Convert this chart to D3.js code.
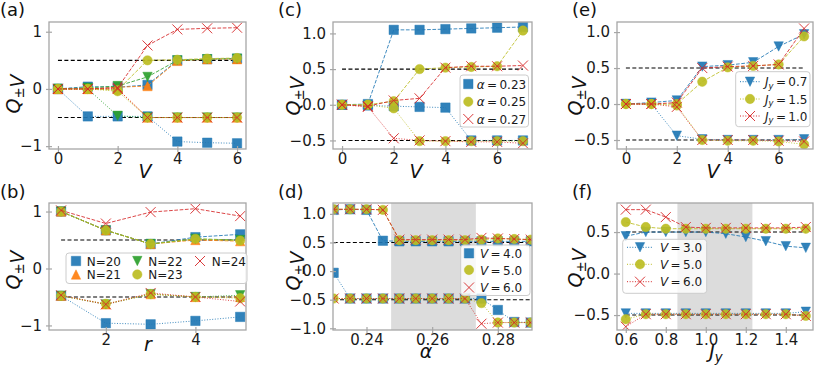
<!DOCTYPE html>
<html>
<head>
<meta charset="utf-8">
<script src="https://cdn.jsdelivr.net/npm/d3@7"></script>
<style>
  body { margin: 0; background: #fff; }
  svg { display: block; font-family: "DejaVu Sans", sans-serif; }
</style>
</head>
<body>
<svg id="fig" width="814" height="365"></svg>
<script>
// ---- data ----
// (a) Q vs V for several N
const vA = [0, 1, 2, 3, 4, 5, 6];
const aUpN20 = [0, 0.04, 0.03, 0.07, 0.50, 0.52, 0.53];
const aLoN20 = [0, -0.48, -0.48, -0.48, -0.92, -0.94, -0.95];
const aUpN21 = [0, 0.00, 0.03, 0.05, 0.49, 0.52, 0.52];
const aLoN21 = [0, 0.00, 0.00, -0.50, -0.50, -0.50, -0.50];
const aUpN22 = [0, 0.02, 0.05, 0.21, 0.50, 0.52, 0.53];
const aLoN22 = [0, 0.00, -0.47, -0.50, -0.50, -0.50, -0.50];
const aUpN23 = [0, 0.00, -0.02, 0.50, 0.51, 0.53, 0.54];
const aLoN23 = [0, 0.00, -0.04, -0.50, -0.50, -0.50, -0.50];
const aUpN24 = [0, 0.00, 0.02, 0.76, 1.04, 1.06, 1.07];
const aLoN24 = [0, 0.00, 0.00, -0.50, -0.50, -0.50, -0.50];

// (b) Q vs r
const rB = [1, 2, 3, 4, 5];
const bUpN20 = [1.00, 0.67, 0.43, 0.55, 0.60];
const bLoN20 = [-0.48, -0.96, -0.98, -0.92, -0.85];
const bUpN21 = [1.00, 0.67, 0.43, 0.50, 0.48];
const bLoN21 = [-0.48, -0.63, -0.45, -0.50, -0.50];
const bUpN22 = [1.00, 0.67, 0.43, 0.52, 0.50];
const bLoN22 = [-0.48, -0.63, -0.45, -0.50, -0.47];
const bUpN23 = [1.00, 0.67, 0.43, 0.52, 0.49];
const bLoN23 = [-0.48, -0.62, -0.45, -0.50, -0.52];
const bUpN24 = [1.02, 0.79, 0.99, 1.05, 0.92];
const bLoN24 = [-0.47, -0.63, -0.43, -0.50, -0.58];

// (c) Q vs V for several alpha
const vC = [0, 1, 2, 3, 4, 5, 6, 7];
const cUpA23 = [0, 0.01, 1.05, 1.05, 1.06, 1.07, 1.08, 1.09];
const cLoA23 = [0, -0.01, -0.02, -0.03, -0.04, -0.50, -0.50, -0.50];
const cUpA25 = [0, 0.00, 0.05, 0.50, 0.52, 0.53, 0.54, 1.04];
const cLoA25 = [0, 0.00, -0.05, -0.51, -0.51, -0.51, -0.51, -0.51];
const cUpA27 = [0, -0.02, 0.06, 0.09, 0.52, 0.54, 0.54, 0.55];
const cLoA27 = [0, -0.03, -0.47, -0.50, -0.51, -0.52, -0.52, -0.54];

// (d) Q vs alpha for several V
const alphaD = [0.23, 0.235, 0.24, 0.245, 0.25, 0.255, 0.26, 0.265, 0.27, 0.275, 0.28, 0.285, 0.29];
const dUpV4 = [1.07, 1.08, 1.07, 0.53, 0.52, 0.52, 0.52, 0.52, 0.52, 0.52, 0.52, 0.52, 0.52];
const dLoV4 = [-0.03, -0.48, -0.48, -0.48, -0.48, -0.48, -0.48, -0.48, -0.48, -0.48, -0.68, -0.89, -0.90];
const dUpV5 = [1.08, 1.08, 1.08, 1.07, 0.54, 0.54, 0.54, 0.54, 0.54, 0.55, 0.57, 0.56, 0.55];
const dLoV5 = [-0.48, -0.48, -0.48, -0.48, -0.48, -0.48, -0.48, -0.48, -0.48, -0.56, -0.90, -0.90, -0.90];
const dUpV6 = [1.08, 1.08, 1.08, 1.07, 0.55, 0.55, 0.55, 0.55, 0.55, 0.58, 0.57, 0.56, 0.55];
const dLoV6 = [-0.48, -0.48, -0.48, -0.48, -0.48, -0.48, -0.48, -0.48, -0.48, -0.92, -0.90, -0.90, -0.90];

// (e) Q vs V for several J_y
const vE = [0, 1, 2, 3, 4, 5, 6, 7];
const eUpJ07 = [0, 0.02, 0.05, 0.52, 0.54, 0.58, 0.80, 0.97];
const eLoJ07 = [0, 0.00, -0.44, -0.49, -0.50, -0.50, -0.50, -0.49];
const eUpJ15 = [0, 0.00, 0.00, 0.31, 0.51, 0.53, 0.55, 0.94];
const eLoJ15 = [0, 0.00, -0.02, -0.50, -0.51, -0.51, -0.52, -0.56];
const eUpJ10 = [0, 0.00, 0.02, 0.50, 0.52, 0.53, 0.55, 1.05];
const eLoJ10 = [0, 0.00, -0.04, -0.50, -0.50, -0.50, -0.51, -0.52];

// (f) Q vs J_y for several V
const jyF = [0.6, 0.7, 0.8, 0.9, 1.0, 1.1, 1.2, 1.3, 1.4, 1.5];
const fUpV3 = [0.45, 0.50, 0.50, 0.50, 0.50, 0.48, 0.44, 0.39, 0.33, 0.31];
const fLoV3 = [-0.48, -0.48, -0.48, -0.48, -0.48, -0.48, -0.48, -0.48, -0.48, -0.46];
const fUpV5 = [0.62, 0.56, 0.54, 0.54, 0.54, 0.54, 0.54, 0.54, 0.54, 0.54];
const fLoV5 = [-0.55, -0.49, -0.49, -0.49, -0.49, -0.49, -0.49, -0.49, -0.49, -0.51];
const fUpV6 = [0.77, 0.77, 0.68, 0.56, 0.55, 0.55, 0.55, 0.55, 0.55, 0.56];
const fLoV6 = [-0.64, -0.49, -0.49, -0.49, -0.49, -0.49, -0.49, -0.49, -0.49, -0.51];

// ticks, reference lines, shaded windows
const ticksXA = [0, 2, 4, 6], ticksYA = [-1, 0, 1];
const ticksXB = [2, 4], ticksYB = [-1, 0, 1];
const ticksXC = [0, 2, 4, 6], ticksYC = [-0.5, 0, 0.5, 1];
const ticksXD = [0.24, 0.26, 0.28], ticksYD = [-1, -0.5, 0, 0.5, 1];
const ticksXE = [0, 2, 4, 6], ticksYE = [-0.5, 0, 0.5, 1];
const ticksXF = [0.6, 0.8, 1.0, 1.2, 1.4], ticksYF = [-0.5, 0, 0.5];
const refLevels = [0.5, -0.5];
const shadeD = [0.2475, 0.2733];
const shadeF = [0.858, 1.233];

const C = { blue: '#1f77b4', orange: '#ff7f0e', green: '#2ca02c', olive: '#bcbd22', red: '#d62728' };
const FRAME = '#a6a6a6';
const TICK_FS = 15, LAB_FS = 19, LEG_FS = 12;

const svg = d3.select('#fig');

function markerPath(type, s) {
  // s = half size
  if (type === 'square') return `M${-s},${-s}H${s}V${s}H${-s}Z`;
  if (type === 'circle') return d3.symbol(d3.symbolCircle, Math.PI * s * s)();
  if (type === 'tri') return `M0,${-s}L${s},${s}L${-s},${s}Z`;
  if (type === 'triDown') return `M0,${s}L${s},${-s}L${-s},${-s}Z`;
  return `M${-s},${-s}L${s},${s}M${-s},${s}L${s},${-s}`; // x
}

function drawMarkers(g, pts, type, color) {
  const isX = type === 'x';
  g.selectAll(null).data(pts).join('path')
    .attr('transform', d => `translate(${d[0]},${d[1]})`)
    .attr('d', markerPath(type, isX ? 5 : 4.7))
    .attr('fill', isX ? 'none' : color)
    .attr('fill-opacity', 0.92)
    .attr('stroke', color)
    .attr('stroke-opacity', isX ? 0.9 : 0.45)
    .attr('stroke-width', 1);
}

function mathText(sel, parts, size) {
  // parts: [text, italic, 'sub' | 'base']
  parts.forEach(p => {
    const t = sel.append('tspan').text(p[0]);
    if (p[1]) t.attr('font-style', 'italic');
    if (p[2] === 'sub') t.attr('font-size', size * 0.7).attr('dy', size * 0.22);
    if (p[2] === 'base') t.attr('dy', -size * 0.22);
  });
}

function panel(cfg) {
  const g = svg.append('g');
  const x = d3.scaleLinear().domain(cfg.xDomain).range([cfg.box[0], cfg.box[2]]);
  const y = d3.scaleLinear().domain(cfg.yDomain).range([cfg.box[3], cfg.box[1]]);
  const id = 'clip-' + cfg.name;
  g.append('clipPath').attr('id', id).append('rect')
    .attr('x', cfg.box[0]).attr('y', cfg.box[1])
    .attr('width', cfg.box[2] - cfg.box[0]).attr('height', cfg.box[3] - cfg.box[1]);
  const plot = g.append('g').attr('clip-path', `url(#${id})`);

  if (cfg.shade) {
    plot.append('rect')
      .attr('x', x(cfg.shade[0])).attr('width', x(cfg.shade[1]) - x(cfg.shade[0]))
      .attr('y', cfg.box[1]).attr('height', cfg.box[3] - cfg.box[1])
      .attr('fill', '#dcdcdc');
  }

  // reference levels at +-0.5
  refLevels.forEach(v => {
    plot.append('line')
      .attr('x1', x(cfg.refSpan[0])).attr('x2', x(cfg.refSpan[1]))
      .attr('y1', y(v)).attr('y2', y(v))
      .attr('stroke', '#000').attr('stroke-width', 1.1)
      .attr('stroke-dasharray', '4,2.4');
  });

  const line = d3.line().x(d => d[0]).y(d => d[1]);
  cfg.series.forEach(s => {
    [[s.up, '3.7,1.6'], [s.lo, '1,1.65']].forEach(([vals, dash]) => {
      const pts = vals.map((v, i) => [x(cfg.xs[i]), y(v)]);
      plot.append('path').attr('d', line(pts))
        .attr('fill', 'none').attr('stroke', s.color).attr('stroke-width', 1)
        .attr('stroke-opacity', 0.85).attr('stroke-dasharray', dash);
      drawMarkers(plot, pts, s.marker, s.color);
    });
  });

  g.append('rect')
    .attr('x', cfg.box[0]).attr('y', cfg.box[1])
    .attr('width', cfg.box[2] - cfg.box[0]).attr('height', cfg.box[3] - cfg.box[1])
    .attr('fill', 'none').attr('stroke', FRAME).attr('stroke-width', 1.3);

  // axes
  const xa = g.append('g').attr('transform', `translate(0,${cfg.box[3]})`)
    .call(d3.axisBottom(x).tickValues(cfg.xTicks).tickFormat(d3.format(cfg.xFmt)).tickSize(4).tickPadding(0));
  const ya = g.append('g').attr('transform', `translate(${cfg.box[0]},0)`)
    .call(d3.axisLeft(y).tickValues(cfg.yTicks).tickFormat(d3.format(cfg.yFmt)).tickSize(4).tickPadding(3));
  [xa, ya].forEach(a => {
    a.select('.domain').remove();
    a.selectAll('.tick line').attr('stroke', FRAME).attr('stroke-width', 1.2);
    a.selectAll('.tick text').attr('fill', '#1a1a1a').attr('font-size', TICK_FS)
      .attr('font-family', '"DejaVu Sans", sans-serif');
  });
  xa.selectAll('.tick line').attr('y1', -3).attr('y2', 3);
  ya.selectAll('.tick line').attr('x1', 3).attr('x2', -3);

  // labels
  g.append('text').attr('x', cfg.tag[0]).attr('y', cfg.tag[1]).attr('font-size', 18).attr('fill', '#111').text(cfg.tagText);
  const yl = g.append('text').attr('text-anchor', 'middle').attr('font-size', LAB_FS).attr('fill', '#111')
    .attr('transform', `translate(${cfg.yLab[0]},${cfg.yLab[1]}) rotate(-90)`);
  mathText(yl, [['Q', true], ['±', false, 'sub'], ['V', true]], LAB_FS);
  const xl = g.append('text').attr('text-anchor', 'middle').attr('font-size', LAB_FS).attr('fill', '#111')
    .attr('x', cfg.xLab[0]).attr('y', cfg.xLab[1]);
  mathText(xl, cfg.xLabText, LAB_FS);

  // legend
  if (cfg.legend) {
    const L = cfg.legend;
    g.append('rect').attr('x', L.box[0]).attr('y', L.box[1])
      .attr('width', L.box[2] - L.box[0]).attr('height', L.box[3] - L.box[1])
      .attr('rx', 3).attr('fill', '#fff').attr('fill-opacity', 0.8)
      .attr('stroke', '#cccccc').attr('stroke-width', 1);
    L.items.forEach(it => {
      const s = cfg.series[it.k];
      if (L.line) {
        g.append('line').attr('x1', it.x - L.line).attr('x2', it.x + L.line)
          .attr('y1', it.y).attr('y2', it.y)
          .attr('stroke', s.color).attr('stroke-width', 1).attr('stroke-dasharray', '1,1.65');
      }
      drawMarkers(g, [[it.x, it.y]], s.marker, s.color);
      const t = g.append('text').attr('x', it.tx).attr('y', it.y + 4.5).attr('font-size', LEG_FS).attr('fill', '#1a1a1a');
      mathText(t, s.label, LEG_FS);
    });
  }
}

const col = [[49, 246], [333, 532], [617, 813]];
const row = [[22, 149], [203, 330]];
const box = (c, r) => [col[c][0], row[r][0], col[c][1], row[r][1]];

const Vlab = [['V', true]];
const eq = '\u2009=\u2009';

panel({
  name: 'a', box: box(0, 0), xs: vA, xDomain: [-0.3, 6.3], yDomain: [-1.05, 1.17],
  xTicks: ticksXA, yTicks: ticksYA, xFmt: 'd', yFmt: 'd', refSpan: [0, 6],
  tag: [0, 16], tagText: '(a)', yLab: [20, 94], xLab: [145, 178], xLabText: Vlab,
  series: [
    { up: aUpN20, lo: aLoN20, color: C.blue, marker: 'square' },
    { up: aUpN21, lo: aLoN21, color: C.orange, marker: 'tri' },
    { up: aUpN22, lo: aLoN22, color: C.green, marker: 'triDown' },
    { up: aUpN23, lo: aLoN23, color: C.olive, marker: 'circle' },
    { up: aUpN24, lo: aLoN24, color: C.red, marker: 'x' }
  ]
});

panel({
  name: 'b', box: box(0, 1), xs: rB, xDomain: [0.73, 5.13], yDomain: [-1.08, 1.15],
  xTicks: ticksXB, yTicks: ticksYB, xFmt: 'd', yFmt: 'd', refSpan: [1, 5.1],
  tag: [0, 198], tagText: '(b)', yLab: [20, 270], xLab: [148, 351], xLabText: [['r', true]],
  series: [
    { up: bUpN20, lo: bLoN20, color: C.blue, marker: 'square', label: [['N=20']] },
    { up: bUpN21, lo: bLoN21, color: C.orange, marker: 'tri', label: [['N=21']] },
    { up: bUpN22, lo: bLoN22, color: C.green, marker: 'triDown', label: [['N=22']] },
    { up: bUpN23, lo: bLoN23, color: C.olive, marker: 'circle', label: [['N=23']] },
    { up: bUpN24, lo: bLoN24, color: C.red, marker: 'x', label: [['N=24']] }
  ],
  legend: {
    box: [66, 253, 247, 283.5],
    items: [
      { k: 0, x: 76, y: 261, tx: 86.7 }, { k: 1, x: 76, y: 274.5, tx: 86.7 },
      { k: 2, x: 137.3, y: 261, tx: 148.3 }, { k: 3, x: 137.3, y: 274.5, tx: 148.3 },
      { k: 4, x: 200, y: 261, tx: 211.7 }
    ]
  }
});

panel({
  name: 'c', box: box(1, 0), xs: vC, xDomain: [-0.35, 7.35], yDomain: [-0.62, 1.16],
  xTicks: ticksXC, yTicks: ticksYC, xFmt: 'd', yFmt: '.1f', refSpan: [0, 7],
  tag: [278, 16], tagText: '(c)', yLab: [300, 96], xLab: [416, 178], xLabText: Vlab,
  series: [
    { up: cUpA23, lo: cLoA23, color: C.blue, marker: 'square', label: [['α', true], [eq + '0.23']] },
    { up: cUpA25, lo: cLoA25, color: C.olive, marker: 'circle', label: [['α', true], [eq + '0.25']] },
    { up: cUpA27, lo: cLoA27, color: C.red, marker: 'x', label: [['α', true], [eq + '0.27']] }
  ],
  legend: {
    box: [460, 75, 528.5, 127],
    items: [
      { k: 0, x: 468.3, y: 84, tx: 476.7 }, { k: 1, x: 468.3, y: 101.7, tx: 476.7 },
      { k: 2, x: 468.3, y: 119, tx: 476.7 }
    ]
  }
});

panel({
  name: 'd', box: box(1, 1), xs: alphaD, xDomain: [0.2298, 0.2904], yDomain: [-1.03, 1.19],
  xTicks: ticksXD, yTicks: ticksYD, xFmt: '.2f', yFmt: '.1f', refSpan: [0.23, 0.29], shade: shadeD,
  tag: [278, 198], tagText: '(d)', yLab: [300, 271], xLab: [426, 358], xLabText: [['α', true]],
  series: [
    { up: dUpV4, lo: dLoV4, color: C.blue, marker: 'square', label: [['V', true], [eq + '4.0']] },
    { up: dUpV5, lo: dLoV5, color: C.olive, marker: 'circle', label: [['V', true], [eq + '5.0']] },
    { up: dUpV6, lo: dLoV6, color: C.red, marker: 'x', label: [['V', true], [eq + '6.0']] }
  ],
  legend: {
    box: [460.7, 245, 530, 295.5],
    items: [
      { k: 0, x: 469, y: 253.3, tx: 480 }, { k: 1, x: 469, y: 270, tx: 480 },
      { k: 2, x: 469, y: 287.5, tx: 480 }
    ]
  }
});

panel({
  name: 'e', box: box(2, 0), xs: vE, xDomain: [-0.35, 7.35], yDomain: [-0.625, 1.14],
  xTicks: ticksXE, yTicks: ticksYE, xFmt: 'd', yFmt: '.1f', refSpan: [0, 7],
  tag: [572, 16], tagText: '(e)', yLab: [582, 96], xLab: [713, 178], xLabText: Vlab,
  series: [
    { up: eUpJ07, lo: eLoJ07, color: C.blue, marker: 'triDown', label: [['J', true], ['y', true, 'sub'], [eq + '0.7', false, 'base']] },
    { up: eUpJ15, lo: eLoJ15, color: C.olive, marker: 'circle', label: [['J', true], ['y', true, 'sub'], [eq + '1.5', false, 'base']] },
    { up: eUpJ10, lo: eLoJ10, color: C.red, marker: 'x', label: [['J', true], ['y', true, 'sub'], [eq + '1.0', false, 'base']] }
  ],
  legend: {
    box: [735.7, 71.7, 810, 126.7], line: 10,
    items: [
      { k: 0, x: 750, y: 81.7, tx: 765 }, { k: 1, x: 750, y: 99, tx: 765 },
      { k: 2, x: 750, y: 116, tx: 765 }
    ]
  }
});

panel({
  name: 'f', box: box(2, 1), xs: jyF, xDomain: [0.556, 1.536], yDomain: [-0.68, 0.85],
  xTicks: ticksXF, yTicks: ticksYF, xFmt: '.1f', yFmt: '.1f', refSpan: [0.6, 1.5], shade: shadeF,
  tag: [572, 198], tagText: '(f)', yLab: [582, 268], xLab: [716, 358],
  xLabText: [['J', true], ['y', true, 'sub']],
  series: [
    { up: fUpV3, lo: fLoV3, color: C.blue, marker: 'triDown', label: [['V', true], [eq + '3.0']] },
    { up: fUpV5, lo: fLoV5, color: C.olive, marker: 'circle', label: [['V', true], [eq + '5.0']] },
    { up: fUpV6, lo: fLoV6, color: C.red, marker: 'x', label: [['V', true], [eq + '6.0']] }
  ],
  legend: {
    box: [622.7, 239.3, 706.7, 293.3], line: 13,
    items: [
      { k: 0, x: 640, y: 247.3, tx: 660 }, { k: 1, x: 640, y: 264.3, tx: 660 },
      { k: 2, x: 640, y: 281.7, tx: 660 }
    ]
  }
});
</script>
</body>
</html>
